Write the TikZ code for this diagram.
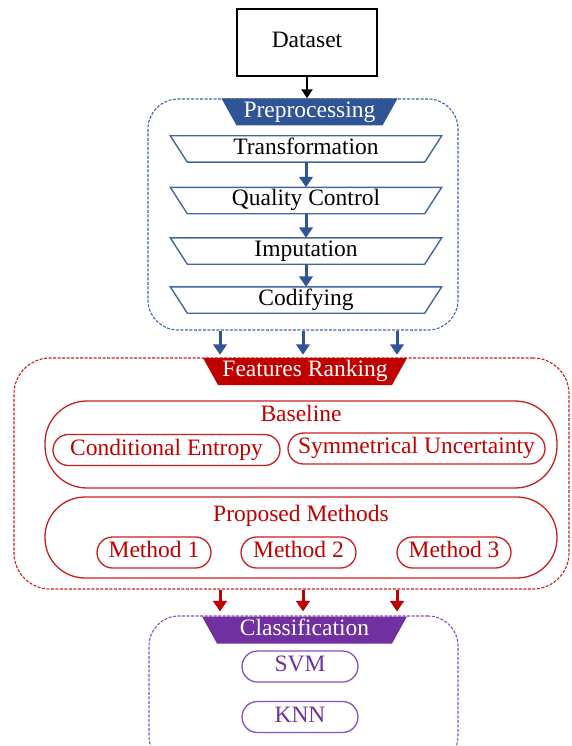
\documentclass[tikz,border=0pt]{standalone}
\usepackage{fontspec}
\setmainfont{Liberation Serif}
\usetikzlibrary{arrows.meta,calc}

\definecolor{prepblue}{HTML}{2F5597}
\definecolor{prepline}{HTML}{3D64A8}
\definecolor{rankred}{HTML}{C00000}
\definecolor{rankline}{HTML}{C81E1E}
\definecolor{clspurple}{HTML}{7030A0}
\definecolor{clsline}{HTML}{8850BC}

\tikzset{
  every node/.style={font=\fontsize{23.5}{27}\selectfont, inner sep=0pt,
    text height=16.5pt, text depth=5.9pt},
  container/.style={draw=#1, line width=1.1pt, dash pattern=on 3pt off 1.5pt},
  header/.style={minimum height=27pt, text=white,
    path picture={\fill[#1] (path picture bounding box.north west)
      -- (path picture bounding box.north east)
      -- ([xshift=-15pt]path picture bounding box.south east)
      -- ([xshift=15pt]path picture bounding box.south west) -- cycle;}},
  stepbox/.style={minimum width=271pt, minimum height=26pt},
  stepline/.style={draw=prepblue!90, line width=1.4pt, line join=miter},
  pill/.style={draw=#1, line width=1.3pt, rounded corners=15.5pt, minimum height=31pt},
  bigpill/.style={draw=rankline, line width=1.3pt, rounded corners=42pt, minimum width=512pt},
  flow/.style={line width=3pt, -{Triangle[width=13.5pt,length=10.5pt]}, draw=#1},
}

% one preprocessing stage: inverted trapezium with its label
\newcommand\prepstage[3]{%
  \node[stepbox] (#1) at (306,#2) {#3};
  \draw[stepline] (#1.north west) -- (#1.north east)
    -- ([xshift=-17pt]#1.south east) -- ([xshift=17pt]#1.south west) -- cycle;}

\begin{document}
\begin{tikzpicture}[x=1pt, y=-1pt]
\useasboundingbox (0,0) rectangle (571,746);

% input
\node[draw=black, line width=1.3pt, minimum width=140pt, minimum height=67pt] (data) at (307,42.5) {Dataset};

% preprocessing block
\node[container=prepline, rounded corners=30pt, minimum width=310pt, minimum height=231pt] (prebox) at (303,214.5) {};
\node[header=prepblue, minimum width=176pt] (prehdr) at (309.5,112) {Preprocessing};
\prepstage{s1}{149}{Transformation}
\prepstage{s2}{200.5}{Quality Control}
\prepstage{s3}{251}{Imputation}
\prepstage{s4}{300}{Codifying}

% feature ranking block
\node[container=rankline, rounded corners=36pt, minimum width=555pt, minimum height=231pt] (frbox) at (291.5,473.5) {};
\node[header=rankred, minimum width=204pt] (frhdr) at (305,371.5) {Features Ranking};

\node[bigpill, minimum height=87pt] (base) at (301,444.5) {};
\node[text=rankred] (basettl) at (301,415.7) {Baseline};
\node[pill=rankline, minimum width=227pt, text=rankred] (ce) at (166.5,450) {Conditional Entropy};
\node[pill=rankline, minimum width=257pt, text=rankred] (su) at (416.5,448.5) {Symmetrical Uncertainty};

\node[bigpill, minimum height=81pt, rounded corners=40pt] (prop) at (301,537.5) {};
\node[text=rankred] (propttl) at (301,515.7) {Proposed Methods};
\node[pill=rankline, minimum width=114pt, text=rankred] (m1) at (154,552.5) {Method 1};
\node[pill=rankline, minimum width=115pt, text=rankred] (m2) at (298.5,552.5) {Method 2};
\node[pill=rankline, minimum width=114pt, text=rankred] (m3) at (454,552.5) {Method 3};

% classification block
\begin{scope}
  \clip (0,0) rectangle (571,746);
  \node[container=clsline, rounded corners=30pt, minimum width=309pt, minimum height=150pt] (clsbox) at (303.5,691) {};
\end{scope}
\node[header=clspurple, minimum width=205pt] (clshdr) at (304.5,630) {Classification};
\node[pill=clsline, minimum width=116pt, text=clspurple] (svm) at (300,666.5) {SVM};
\node[pill=clsline, minimum width=116pt, text=clspurple] (knn) at (300,717) {KNN};

% connectors
\draw[flow=black, line width=2.6pt, -{Triangle[width=11pt,length=9pt]}] (data.south) -- (data.south |- prehdr.north);
\draw[flow=prepblue] (s1.south) -- (s2.north);
\draw[flow=prepblue] (s2.south) -- (s3.north);
\draw[flow=prepblue] (s3.south) -- (s4.north);

\foreach \dx in {-83,0,94}{
  \draw[flow=prepblue, shorten >=3pt] ([xshift=\dx pt]prebox.south) -- ([xshift=\dx pt]prebox.south |- frhdr.north);
}
\foreach \dx in {-83.5,-0.5,93.5}{
  \draw[flow=rankred, shorten >=4pt] ([xshift=\dx pt]clsbox.north |- frbox.south) -- ([xshift=\dx pt]clsbox.north);
}
\end{tikzpicture}
\end{document}
